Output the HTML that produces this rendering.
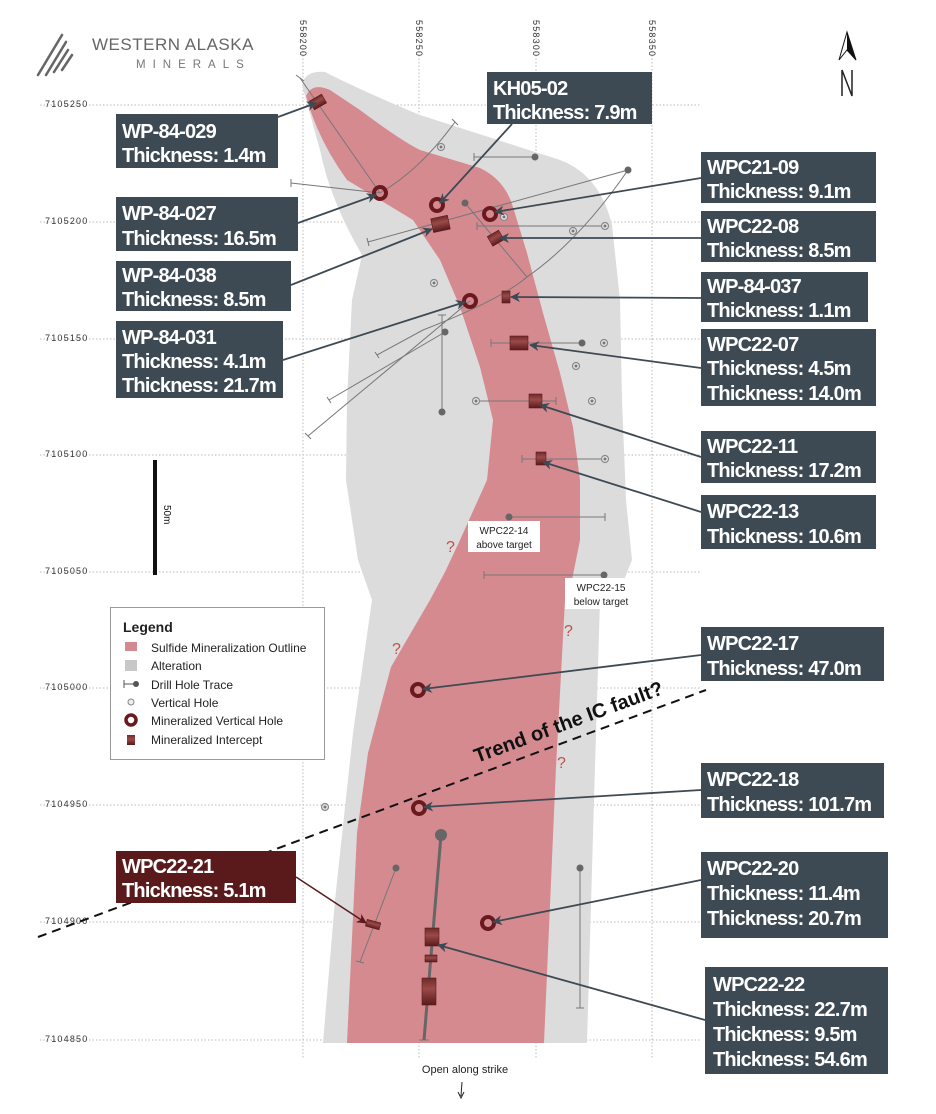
<!DOCTYPE html>
<html><head><meta charset="utf-8"><style>
html,body{margin:0;padding:0;background:#fff;}
svg{display:block;font-family:"Liberation Sans",sans-serif;}
.lb{font-weight:bold;font-size:20px;fill:#fff;letter-spacing:-0.8px;}
</style></head><body>
<svg width="936" height="1114" viewBox="0 0 936 1114" xmlns="http://www.w3.org/2000/svg">
<defs>
<marker id="ah" markerWidth="10" markerHeight="10" refX="9" refY="5" orient="auto" markerUnits="userSpaceOnUse"><path d="M0,0 L10,5 L0,10 L3,5 Z" fill="#3d4a54"/></marker>
<marker id="ahr" markerWidth="10" markerHeight="10" refX="9" refY="5" orient="auto" markerUnits="userSpaceOnUse"><path d="M0,0 L10,5 L0,10 L3,5 Z" fill="#5a1a1c"/></marker>
<linearGradient id="cyl" x1="0" y1="0" x2="0" y2="1"><stop offset="0" stop-color="#6e2a2a"/><stop offset="0.4" stop-color="#9a4a48"/><stop offset="1" stop-color="#5a1a1c"/></linearGradient>
</defs>
<g stroke="#bbb" stroke-width="1" stroke-dasharray="1.5,2">
<line x1="303" y1="20" x2="303" y2="1058"/><line x1="419" y1="20" x2="419" y2="1058"/><line x1="536" y1="20" x2="536" y2="1058"/><line x1="652" y1="20" x2="652" y2="1058"/>
<line x1="40" y1="105" x2="700" y2="105"/><line x1="40" y1="222" x2="700" y2="222"/><line x1="40" y1="339" x2="700" y2="339"/><line x1="40" y1="455" x2="700" y2="455"/><line x1="40" y1="572" x2="700" y2="572"/><line x1="40" y1="688" x2="700" y2="688"/><line x1="40" y1="805" x2="700" y2="805"/><line x1="40" y1="922" x2="700" y2="922"/><line x1="40" y1="1040" x2="700" y2="1040"/>
</g>
<g font-size="9" fill="#333" letter-spacing="1.2">
<text x="45" y="107">7105250</text><text x="45" y="224">7105200</text><text x="45" y="341">7105150</text><text x="45" y="457">7105100</text><text x="45" y="574">7105050</text><text x="45" y="690">7105000</text><text x="45" y="807">7104950</text><text x="45" y="924">7104900</text><text x="45" y="1042">7104850</text>
<text transform="translate(300,20) rotate(90)">558200</text><text transform="translate(416,20) rotate(90)">558250</text><text transform="translate(533,20) rotate(90)">558300</text><text transform="translate(649,20) rotate(90)">558350</text>
</g>
<g stroke="#666" stroke-width="2.5" stroke-linecap="round">
<line x1="38" y1="75" x2="62" y2="35"/><line x1="46" y1="75" x2="66" y2="42"/><line x1="54" y1="72" x2="68" y2="50"/><line x1="62" y1="70" x2="72" y2="55"/>
</g>
<text x="92" y="50" font-size="17" fill="#666" letter-spacing="0.5">WESTERN ALASKA</text>
<text x="136" y="68" font-size="11.5" fill="#777" letter-spacing="7">MINERALS</text>
<path d="M847,32 L839,60 L847,50 L856,60 Z" fill="#fff" stroke="#111" stroke-width="1"/>
<path d="M847,32 L847,50 L856,60 Z" fill="#111"/>
<path d="M842,96 L842,70 L852,96 L852,70" fill="none" stroke="#222" stroke-width="1.5"/>
<path d="M302,85 Q305,70 325,72 Q360,90 420,115 L560,160 Q600,175 612,225 L620,300 L622,400 L626,500 L632,560 L622,585 L600,600 L594,800 L587,1043 L323,1043 L335,900 L353,733 L372,600 L358,560 L346,480 L347,400 L352,300 L362,255 Q330,200 320,150 Z" fill="#dcdcdc"/>
<path d="M306,96 Q312,82 330,90 L360,110 Q400,140 420,150 L480,168 Q505,180 513,207 L527,253 L543,313 L560,373 L573,427 L580,480 L580,540 L570,590 L565,600 L556,767 L544,1043 L347,1043 L357,833 L368,753 L391,667 L430,600 L445,572 L460,540 L487,480 L493,420 L480,367 L460,307 L440,260 L413,220 L380,200 L347,180 Q318,140 306,96 Z" fill="#d58a90"/>
<g stroke="#777" stroke-width="1" fill="none">
<line x1="300" y1="78" x2="380" y2="193"/>
<path d="M380,193 Q420,170 455,122"/>
<line x1="291" y1="183" x2="380" y2="193"/>
<line x1="474" y1="157" x2="535" y2="157"/>
<line x1="628" y1="170" x2="368" y2="242"/>
<path d="M628,170 Q580,240 527,277 Q500,300 423,330 L377,355"/>
<line x1="465" y1="203" x2="527" y2="277"/>
<line x1="477" y1="226" x2="605" y2="226"/>
<line x1="445" y1="332" x2="329" y2="400"/>
<line x1="470" y1="301" x2="308" y2="436"/>
<line x1="442" y1="315" x2="442" y2="412"/>
<line x1="491" y1="343" x2="582" y2="343"/>
<line x1="476" y1="401" x2="556" y2="401"/>
<line x1="522" y1="459" x2="605" y2="459"/>
<line x1="509" y1="517" x2="605" y2="517"/>
<line x1="484" y1="575" x2="604" y2="575"/>
<line x1="396" y1="868" x2="360" y2="962"/>
<line x1="580" y1="868" x2="580" y2="1008"/>
</g>
<g stroke="#777" stroke-width="1">
<line x1="296" y1="75" x2="304" y2="81"/><line x1="452" y1="119" x2="458" y2="125"/><line x1="291" y1="179" x2="291" y2="187"/><line x1="474" y1="153" x2="474" y2="161"/><line x1="367" y1="238" x2="369" y2="246"/><line x1="523" y1="280" x2="531" y2="274"/><line x1="375" y1="352" x2="379" y2="358"/><line x1="477" y1="222" x2="477" y2="230"/><line x1="327" y1="397" x2="331" y2="403"/><line x1="305" y1="433" x2="311" y2="439"/><line x1="438" y1="315" x2="446" y2="315"/><line x1="491" y1="339" x2="491" y2="347"/><line x1="556" y1="397" x2="556" y2="405"/><line x1="522" y1="455" x2="522" y2="463"/><line x1="605" y1="513" x2="605" y2="521"/><line x1="484" y1="571" x2="484" y2="579"/><line x1="356" y1="961" x2="364" y2="963"/><line x1="576" y1="1008" x2="584" y2="1008"/><line x1="419" y1="1040" x2="429" y2="1040"/>
</g>
<g fill="#666"><circle cx="535" cy="157" r="3.5"/><circle cx="628" cy="170" r="3.5"/><circle cx="465" cy="203" r="3.5"/><circle cx="442" cy="412" r="3.5"/><circle cx="582" cy="343" r="3.5"/><circle cx="509" cy="517" r="3.5"/><circle cx="604" cy="575" r="3.5"/><circle cx="445" cy="332" r="3.5"/><circle cx="396" cy="868" r="3.5"/><circle cx="580" cy="868" r="3.5"/></g>
<line x1="441" y1="835" x2="424" y2="1040" stroke="#666" stroke-width="3"/>
<circle cx="441" cy="835" r="6" fill="#666"/>
<g fill="#e8e8e8" stroke="#888" stroke-width="1.2">
<circle cx="441" cy="147" r="3.5"/><circle cx="504" cy="217" r="3.5"/><circle cx="573" cy="231" r="3.5"/><circle cx="605" cy="226" r="3.5"/><circle cx="434" cy="283" r="3.5"/><circle cx="576" cy="366" r="3.5"/><circle cx="604" cy="343" r="3.5"/><circle cx="476" cy="401" r="3.5"/><circle cx="592" cy="401" r="3.5"/><circle cx="605" cy="459" r="3.5"/><circle cx="325" cy="807" r="3.5"/>
</g>
<g fill="#777"><circle cx="441" cy="147" r="1.5"/><circle cx="504" cy="217" r="1.5"/><circle cx="573" cy="231" r="1.5"/><circle cx="605" cy="226" r="1.5"/><circle cx="434" cy="283" r="1.5"/><circle cx="576" cy="366" r="1.5"/><circle cx="604" cy="343" r="1.5"/><circle cx="476" cy="401" r="1.5"/><circle cx="592" cy="401" r="1.5"/><circle cx="605" cy="459" r="1.5"/><circle cx="325" cy="807" r="1.5"/></g>
<g fill="url(#cyl)" stroke="#5a1a1c" stroke-width="0.6">
<rect x="311" y="97" width="14" height="10" transform="rotate(-30 318 102)"/>
<rect x="432" y="217" width="17" height="14" transform="rotate(-12 440 224)"/>
<rect x="489" y="233" width="13" height="11" transform="rotate(-30 495 238)"/>
<rect x="502" y="291" width="8" height="12"/>
<rect x="510" y="336" width="18" height="14"/>
<rect x="529" y="394" width="13" height="14"/>
<rect x="536" y="452" width="10" height="13"/>
<rect x="366" y="921" width="14" height="7" transform="rotate(15 373 925)"/>
<rect x="425" y="928" width="14" height="18"/>
<rect x="425" y="955" width="12" height="7"/>
<rect x="422" y="978" width="14" height="27"/>
</g>
<g fill="none" stroke="#6a1a1e" stroke-width="4">
<circle cx="380" cy="193" r="6"/><circle cx="437" cy="205" r="6"/><circle cx="490" cy="214" r="6"/><circle cx="470" cy="301" r="6"/><circle cx="418" cy="690" r="6"/><circle cx="419" cy="808" r="6"/><circle cx="488" cy="923" r="6"/>
</g>
<g fill="#c0504d" font-size="16"><text x="446" y="552">?</text><text x="392" y="654">?</text><text x="564" y="636">?</text><text x="557" y="768">?</text></g>
<rect x="468" y="521" width="72" height="31" fill="#fff"/>
<text x="504" y="534" font-size="10" text-anchor="middle" fill="#222">WPC22-14</text>
<text x="504" y="548" font-size="10" text-anchor="middle" fill="#222">above target</text>
<rect x="565" y="578" width="72" height="31" fill="#fff"/>
<text x="601" y="591" font-size="10" text-anchor="middle" fill="#222">WPC22-15</text>
<text x="601" y="605" font-size="10" text-anchor="middle" fill="#222">below target</text>
<line x1="38" y1="937" x2="706" y2="690" stroke="#111" stroke-width="2" stroke-dasharray="9,6"/>
<text x="0" y="0" font-size="20" font-weight="bold" fill="#111" transform="translate(477,763) rotate(-20.3)">Trend of the IC fault?</text>
<line x1="155" y1="460" x2="155" y2="575" stroke="#111" stroke-width="4"/>
<text font-size="10" fill="#111" transform="translate(164,505) rotate(90)">50m</text>
<rect x="110.5" y="607.5" width="214" height="152" fill="#fff" stroke="#999"/>
<text x="123" y="632" font-size="14" font-weight="bold" fill="#222">Legend</text>
<g font-size="12" fill="#222">
<rect x="125" y="642" width="12" height="9" fill="#d58a90"/><text x="151" y="652">Sulfide Mineralization Outline</text>
<rect x="125" y="660" width="12" height="11" fill="#c8c8c8"/><text x="151" y="670">Alteration</text>
<line x1="124" y1="684" x2="136" y2="684" stroke="#555"/><line x1="124" y1="680" x2="124" y2="688" stroke="#555"/><circle cx="136" cy="684" r="3" fill="#555"/><text x="151" y="689">Drill Hole Trace</text>
<circle cx="131" cy="702" r="3" fill="#eee" stroke="#888"/><text x="151" y="707">Vertical Hole</text>
<circle cx="131" cy="720" r="5" fill="none" stroke="#6a1a1e" stroke-width="3.5"/><text x="151" y="725">Mineralized Vertical Hole</text>
<rect x="127" y="735" width="8" height="10" fill="url(#cyl)"/><text x="151" y="744">Mineralized Intercept</text>
</g>
<text x="465" y="1073" font-size="11" fill="#222" text-anchor="middle">Open along strike</text>
<line x1="462" y1="1082" x2="461" y2="1096" stroke="#222"/><path d="M458,1092 L461,1098 L464,1092" fill="none" stroke="#222"/>
<g stroke="#3d4a54" stroke-width="1.8" marker-end="url(#ah)">
<line x1="278" y1="117" x2="316" y2="103"/>
<line x1="512" y1="124" x2="440" y2="203"/>
<line x1="298" y1="223" x2="376" y2="195"/>
<line x1="291" y1="285" x2="432" y2="229"/>
<line x1="283" y1="360" x2="465" y2="302"/>
<line x1="701" y1="178" x2="495" y2="212"/>
<line x1="701" y1="238" x2="500" y2="238"/>
<line x1="701" y1="298" x2="511" y2="297"/>
<line x1="701" y1="368" x2="530" y2="345"/>
<line x1="701" y1="457" x2="540" y2="405"/>
<line x1="701" y1="512" x2="543" y2="462"/>
<line x1="701" y1="655" x2="423" y2="689"/>
<line x1="701" y1="790" x2="424" y2="807"/>
<line x1="701" y1="880" x2="493" y2="922"/>
<line x1="705" y1="1020" x2="438" y2="945"/>
</g>
<line x1="296" y1="877" x2="366" y2="923" stroke="#5a1a1c" stroke-width="1.5" marker-end="url(#ahr)"/>
<g fill="#3d4a54">
<rect x="116" y="114" width="162" height="54"/><rect x="487" y="72" width="165" height="52"/><rect x="116" y="197" width="182" height="54"/><rect x="116" y="261" width="175" height="50"/><rect x="116" y="321" width="167" height="77"/>
<rect x="701" y="152" width="175" height="51"/><rect x="701" y="211" width="175" height="51"/><rect x="701" y="272" width="167" height="50"/><rect x="701" y="329" width="175" height="77"/><rect x="701" y="431" width="175" height="52"/><rect x="701" y="495" width="175" height="54"/><rect x="701" y="627" width="183" height="54"/><rect x="701" y="763" width="183" height="55"/><rect x="701" y="852" width="187" height="86"/><rect x="705" y="967" width="183" height="107"/>
</g>
<rect x="116" y="851" width="180" height="52" fill="#5a1a1c"/>
<g class="lb">
<text x="122" y="138">WP-84-029</text><text x="122" y="162">Thickness: 1.4m</text>
<text x="493" y="95">KH05-02</text><text x="493" y="119">Thickness: 7.9m</text>
<text x="122" y="220">WP-84-027</text><text x="122" y="245">Thickness: 16.5m</text>
<text x="122" y="282">WP-84-038</text><text x="122" y="306">Thickness: 8.5m</text>
<text x="122" y="344">WP-84-031</text><text x="122" y="368">Thickness: 4.1m</text><text x="122" y="392">Thickness: 21.7m</text>
<text x="707" y="174">WPC21-09</text><text x="707" y="198">Thickness: 9.1m</text>
<text x="707" y="233">WPC22-08</text><text x="707" y="257">Thickness: 8.5m</text>
<text x="707" y="293">WP-84-037</text><text x="707" y="317">Thickness: 1.1m</text>
<text x="707" y="351">WPC22-07</text><text x="707" y="375">Thickness: 4.5m</text><text x="707" y="400">Thickness: 14.0m</text>
<text x="707" y="453">WPC22-11</text><text x="707" y="477">Thickness: 17.2m</text>
<text x="707" y="518">WPC22-13</text><text x="707" y="543">Thickness: 10.6m</text>
<text x="707" y="650">WPC22-17</text><text x="707" y="675">Thickness: 47.0m</text>
<text x="707" y="786">WPC22-18</text><text x="707" y="811">Thickness: 101.7m</text>
<text x="707" y="875">WPC22-20</text><text x="707" y="900">Thickness: 11.4m</text><text x="707" y="925">Thickness: 20.7m</text>
<text x="713" y="991">WPC22-22</text><text x="713" y="1016">Thickness: 22.7m</text><text x="713" y="1041">Thickness: 9.5m</text><text x="713" y="1066">Thickness: 54.6m</text>
<text x="122" y="873">WPC22-21</text><text x="122" y="897">Thickness: 5.1m</text>
</g>
</svg>
</body></html>
